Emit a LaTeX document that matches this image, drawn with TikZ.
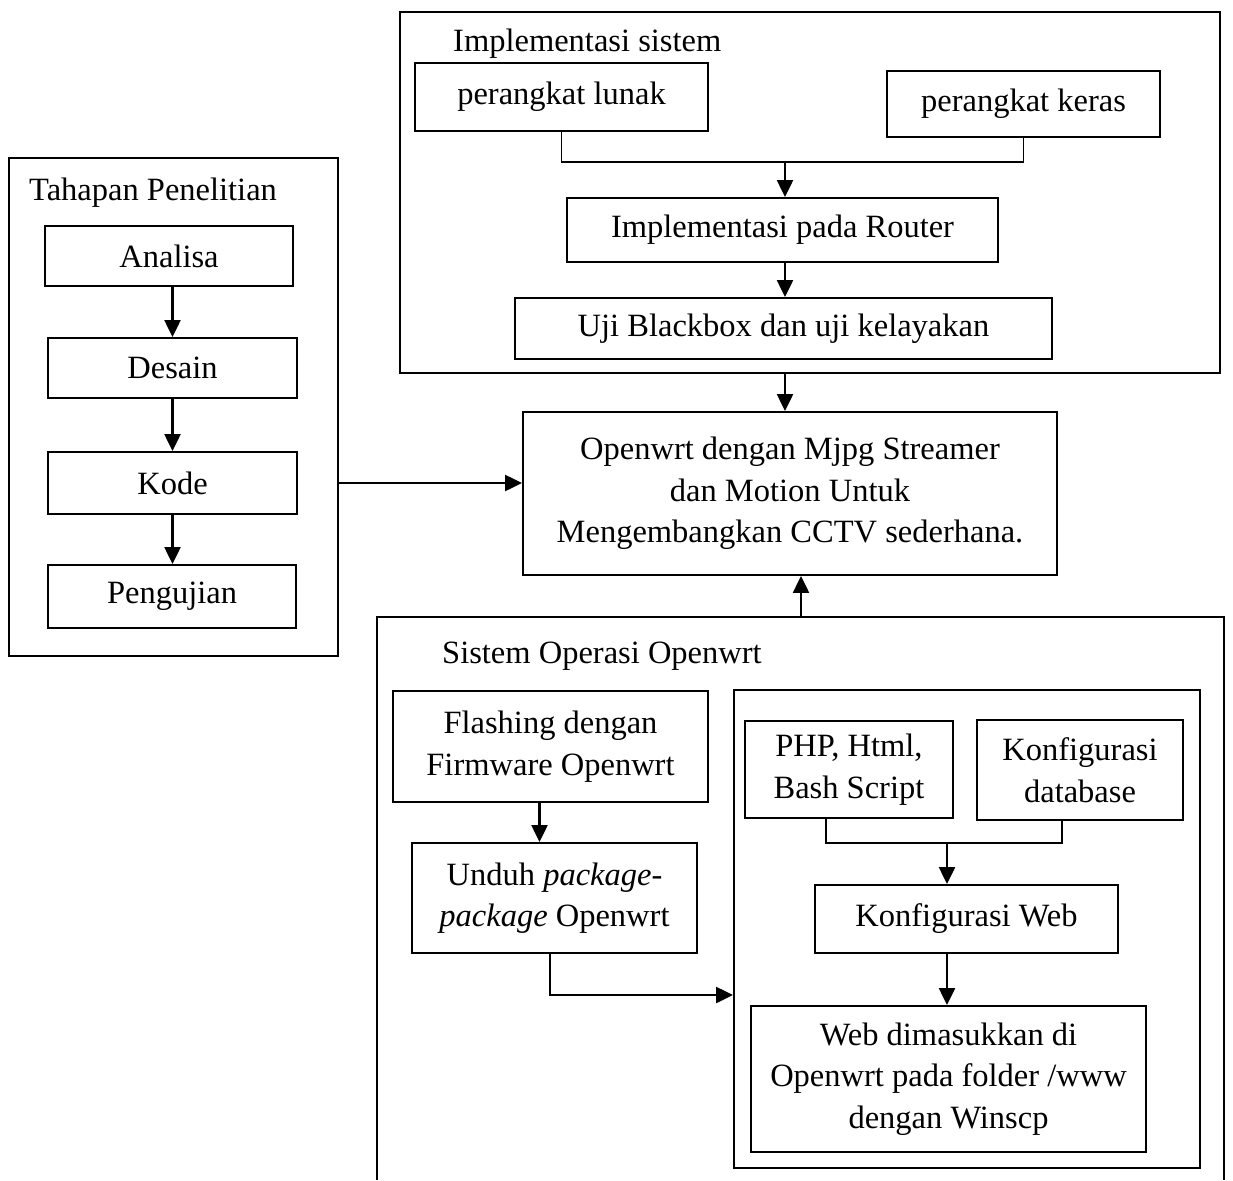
\documentclass[tikz,border=0pt]{standalone}
\usepackage{fontspec}
\setmainfont{Liberation Serif}
\usetikzlibrary{arrows.meta}
\begin{document}
\begin{tikzpicture}[x=1pt,y=-1pt,every node/.style={inner sep=0pt}]
\tikzstyle{box}=[draw,line width=1.9pt,align=center,font=\fontsize{32.5}{41.5}\selectfont]
\tikzstyle{frame}=[draw,line width=1.9pt]
\tikzstyle{title}=[anchor=base west,font=\fontsize{32.5}{41.5}\selectfont]
\tikzstyle{arrow}=[line width=2.3pt,-{Triangle[length=17pt,width=16pt]}]
\tikzstyle{conn}=[line width=1.7pt]
\useasboundingbox (0,0) rectangle (1233,1180);

\node[frame,minimum width=820pt,minimum height=361pt](implframe) at (810,192.5){};
\node[title](impltitle) at (453,52){Implementasi sistem};
\node[box,minimum width=293pt,minimum height=68pt](lunak) at (561.5,97){perangkat lunak};
\node[box,minimum width=273pt,minimum height=66pt](keras) at (1023.5,104){perangkat keras};
\node[box,minimum width=431pt,minimum height=64pt](router) at (782.5,230){Implementasi pada Router};
\node[box,minimum width=537pt,minimum height=61pt](uji) at (783.5,328.5){Uji Blackbox dan uji kelayakan};
\coordinate (jimpl) at (785,162);

\node[box,minimum width=534pt,minimum height=163pt](central) at (790,493.5){Openwrt dengan Mjpg Streamer\\dan Motion Untuk\\Mengembangkan CCTV sederhana.};

\node[frame,minimum width=329pt,minimum height=498pt](tahapan) at (173.5,407){};
\node[title](tahapantitle) at (29,200){Tahapan Penelitian};
\node[box,minimum width=248pt,minimum height=60pt](analisa) at (169,256){Analisa};
\node[box,minimum width=249pt,minimum height=60pt](desain) at (172.5,368){Desain};
\node[box,minimum width=249pt,minimum height=62pt](kode) at (172.5,483){Kode};
\node[box,minimum width=248pt,minimum height=63pt](pengujian) at (172,596.5){Pengujian};

\draw[frame] (377,1180) -- (377,617) -- (1224,617) -- (1224,1180);
\coordinate (ostop) at (801,617);
\node[title](ostitle) at (442,663){Sistem Operasi Openwrt};
\node[box,minimum width=315pt,minimum height=111pt](flashing) at (550.5,746.5){Flashing dengan\\Firmware Openwrt};
\node[box,minimum width=285pt,minimum height=110pt](unduh) at (554.5,898){Unduh \textit{package-}\\\textit{package} Openwrt};
\node[frame,minimum width=466pt,minimum height=478pt](inner) at (967,929){};
\node[box,minimum width=208pt,minimum height=97pt](php) at (849,769.5){PHP, Html,\\Bash Script};
\node[box,minimum width=206pt,minimum height=100pt](db) at (1080,770){Konfigurasi\\database};
\node[box,minimum width=303pt,minimum height=68pt](kweb) at (966.5,919){Konfigurasi Web};
\node[box,minimum width=395pt,minimum height=146pt](webin) at (948.5,1079){Web dimasukkan di\\Openwrt pada folder /www\\dengan Winscp};
\coordinate (jweb) at (947,843);

\draw[conn] (lunak.south) |- (jimpl) -| (keras.south);
\draw[arrow] (jimpl) -- (jimpl |- router.north);
\draw[arrow] (jimpl |- router.south) -- (jimpl |- uji.north);
\draw[arrow] (jimpl |- implframe.south) -- (jimpl |- central.north);

\draw[arrow] (desain.north |- analisa.south) -- (desain.north);
\draw[arrow] (desain.south) -- (kode.north);
\draw[arrow] (kode.south) -- (pengujian.north -| kode.south);
\draw[arrow] (tahapan.east |- kode) -- (central.west |- kode);

\draw[arrow] (ostop) -- (ostop |- central.south);
\draw[arrow] ([xshift=-11pt]flashing.south) -- ([xshift=-11pt]flashing.south |- unduh.north);
\draw[arrow] ([xshift=-4.5pt]unduh.south) |- ([yshift=-66pt]inner.west);
\draw[conn] ([xshift=-23pt]php.south) |- (jweb) -| ([xshift=-18pt]db.south);
\draw[arrow] (jweb) -- (jweb |- kweb.north);
\draw[arrow] (jweb |- kweb.south) -- (jweb |- webin.north);
\end{tikzpicture}
\end{document}
